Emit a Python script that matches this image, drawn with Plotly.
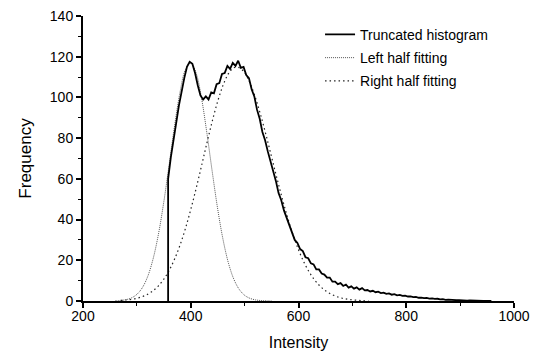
import plotly.graph_objects as go

# Truncated histogram (bins every 5 intensity units starting at 358)
hist_x = [358] + list(range(358, 963, 5))
hist_y = [0,
    60, 70.5, 78, 87.5, 96, 103.5, 109.5, 115, 117.5, 116.5,
    112, 106, 101, 99, 100.5, 99, 102.5, 102, 106.5, 107,
    111.5, 112, 115.5, 114, 117, 115.5, 118, 114.5, 115, 111,
    109.5, 104, 100.5, 94, 89.5, 83, 79, 73.5, 69, 63.5,
    59, 53, 49.5, 44.5, 41, 36.5, 34, 30, 28.5, 25.5,
    24.5, 21.5, 21, 18.5, 18, 15.5, 15.5, 13.5, 13, 11.5,
    11.5, 9.5, 9.5, 8.3, 8.8, 7.4, 8.1, 6.6, 7.2, 6.1,
    6.7, 5.6, 6.3, 5.2, 5.4, 4.7, 5.0, 4.3, 4.6, 3.9,
    4.1, 3.5, 3.7, 3.1, 3.4, 2.8, 3.0, 2.5, 2.6, 2.2,
    2.3, 1.9, 2.0, 1.6, 1.7, 1.4, 1.5, 1.2, 1.3, 1.0,
    1.1, 0.8, 0.9, 0.6, 0.7, 0.5, 0.55, 0.4, 0.45, 0.3,
    0.35, 0.2, 0.25, 0.15, 0.2, 0.1, 0.12, 0.06, 0.08, 0.03,
    0.0]

# Left half fitting
left_x = [260, 270, 280, 290, 300, 310, 320, 330, 340, 350, 360, 370, 380, 390,
          400, 410, 420, 430, 440, 450, 460, 470, 480, 490, 500, 510, 520, 530, 540, 550]
left_y = [0.1, 0.27, 0.66, 1.53, 3.26, 6.48, 11.98, 20.6, 32.8, 48.7, 67.1, 86.1, 102.5, 113.6,
          117, 111.9, 99.6, 82.4, 63.3, 45.2, 30.1, 18.6, 10.7, 5.7, 2.8, 1.3, 0.56, 0.22, 0.08, 0.03]

# Right half fitting
right_x = [270, 280, 290, 300, 310, 320, 330, 340, 350, 360, 370, 380, 390, 400, 410,
           420, 430, 440, 450, 460, 470, 480, 490, 500, 510, 520, 530, 540, 550, 560,
           570, 580, 590, 600, 610, 620, 630, 640, 650, 660, 670, 680, 690, 700, 710, 720, 730]
right_y = [0.28, 0.49, 0.82, 1.34, 2.14, 3.33, 5.05, 7.46, 10.7, 15.1, 20.6, 27.4, 35.5, 44.9, 55.3,
           66.4, 77.6, 88.4, 98.1, 106.0, 111.7, 114.6, 114.6, 112.1, 107.0, 99.9, 91.1, 81.3, 70.8, 60.3,
           50.2, 40.8, 32.4, 25.2, 19.1, 14.2, 10.3, 7.3, 5.05, 3.42, 2.26, 1.46, 0.92, 0.57, 0.34, 0.2, 0.1]

x_ticks = [200, 400, 600, 800, 1000]
y_ticks = [0, 20, 40, 60, 80, 100, 120, 140]

FONT = "Liberation Sans, Arial, sans-serif"

fig = go.Figure()
fig.add_trace(go.Scatter(x=left_x, y=left_y, mode="lines", name="Left half fitting",
                         line=dict(color="#555555", width=1, dash="1px,1px", shape="spline"),
                         legendrank=2, legendgroup="b"))
fig.add_trace(go.Scatter(x=right_x, y=right_y, mode="lines", name="Right half fitting",
                         line=dict(color="#222222", width=1.2, dash="1.5px,3px", shape="spline"),
                         legendrank=3, legendgroup="c"))
fig.add_trace(go.Scatter(x=hist_x, y=hist_y, mode="lines", name="Truncated histogram",
                         line=dict(color="black", width=1.8),
                         legendrank=1, legendgroup="a"))

axis_common = dict(
    showline=True, linecolor="black", linewidth=2,
    ticks="outside", tickcolor="black", tickwidth=1.6, ticklen=5,
    showgrid=False, zeroline=False,
    tickfont=dict(family=FONT, size=14, color="black"),
)

fig.update_xaxes(range=[200, 1000], tickvals=x_ticks, ticklabelstandoff=-4,
                 minor=dict(ticks="outside", dtick=100, ticklen=3, tickcolor="black", tickwidth=1.2),
                 title=dict(text="Intensity", font=dict(family=FONT, size=16, color="black"), standoff=24),
                 automargin=False,
                 **axis_common)
fig.update_yaxes(range=[0, 140], tickvals=y_ticks,
                 minor=dict(ticks="outside", dtick=10, ticklen=3, tickcolor="black", tickwidth=1.2),
                 title=dict(text="Frequency", font=dict(family=FONT, size=17, color="black"), standoff=14),
                 automargin=False,
                 **axis_common)

fig.update_layout(
    width=542, height=351,
    margin=dict(l=83, r=28, t=16, b=50),
    paper_bgcolor="white", plot_bgcolor="white",
    showlegend=True,
    legend=dict(x=0.55, y=0.99, xanchor="left", yanchor="top",
                font=dict(family=FONT, size=14, color="black"),
                bgcolor="rgba(0,0,0,0)", tracegroupgap=2, itemwidth=30),
)

fig.write_html("out.html")
